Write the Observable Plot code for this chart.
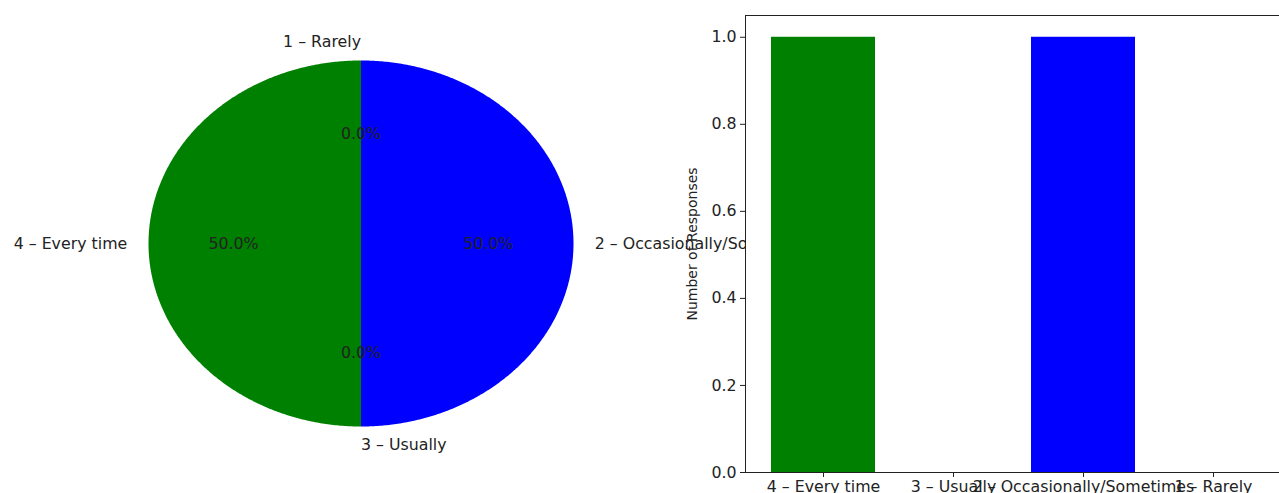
<!DOCTYPE html>
<html>
<head>
<meta charset="utf-8">
<script src="https://cdn.jsdelivr.net/npm/d3@7"></script>
<script src="https://cdn.jsdelivr.net/npm/@observablehq/plot@0.6"></script>
<style>
  html, body { margin: 0; padding: 0; background: white; overflow: hidden; }
  #wrap { position: relative; width: 1279px; height: 493px; overflow: hidden; }
  #pie, #bar { position: absolute; top: 0; height: 493px; }
  #pie { left: 0; width: 640px; }
  #bar { left: 680px; width: 620px; }
  svg { overflow: visible; max-width: none !important; }
</style>
</head>
<body>
<div id="wrap"><div id="pie"></div><div id="bar"></div></div>
<script>
// ---- data ----
const pieCategories = ["1 – Rarely", "2 – Occasionally/Sometimes", "3 – Usually", "4 – Every time"];
const pieResponses = [0, 1, 0, 1];
const pieColors = ["red", "blue", "orange", "green"];
const barCategories = ["4 – Every time", "3 – Usually", "2 – Occasionally/Sometimes", "1 – Rarely"];
const barResponses = [1, 0, 1, 0];
const barColors = ["green", "orange", "blue", "red"];
const yTicks = [0, 0.2, 0.4, 0.6, 0.8, 1.0];
const yLabel = "Number of Responses";

const FONT = "DejaVu Sans, sans-serif";
const INK = "#222";
const FS = 15.8;

// ---- pie ----
const arcs = d3.pie().sort(null).value(d => d.value)(
  pieCategories.map((c, i) => ({cat: c, value: pieResponses[i], color: pieColors[i]}))
);
const total = d3.sum(pieResponses);
const wedgePts = arcs.flatMap(a => {
  const span = a.endAngle - a.startAngle;
  const n = Math.max(2, Math.ceil(span / (Math.PI / 360)));
  const pts = [{slice: a.data.cat, color: a.data.color, x: 0, y: 0}];
  for (let k = 0; k <= n; k++) {
    const t = a.startAngle + span * k / n;
    pts.push({slice: a.data.cat, color: a.data.color, x: Math.sin(t), y: Math.cos(t)});
  }
  pts.push({slice: a.data.cat, color: a.data.color, x: 0, y: 0});
  return pts;
});
const labels = arcs.map(a => {
  const m = (a.startAngle + a.endAngle) / 2;
  return {
    text: a.data.cat,
    pct: (a.data.value / total * 100).toFixed(1) + "%",
    lx: 1.1 * Math.sin(m), ly: 1.1 * Math.cos(m),
    px: 0.6 * Math.sin(m), py: 0.6 * Math.cos(m)
  };
});

const pie = Plot.plot({
  width: 640, height: 493,
  marginLeft: 148, marginRight: 67, marginTop: 60, marginBottom: 67,
  x: {domain: [-1, 1], axis: null},
  y: {domain: [-1, 1], axis: null},
  color: {type: "identity"},
  style: {background: "transparent", overflow: "visible", fontFamily: FONT, fontSize: FS + "px", color: INK},
  marks: [
    Plot.line(wedgePts, {x: "x", y: "y", z: "slice", fill: "color", stroke: "none"}),
    Plot.text(labels.filter(d => d.lx > 0), {x: "lx", y: "ly", text: "text", textAnchor: "start", fill: INK, fontSize: FS}),
    Plot.text(labels.filter(d => !(d.lx > 0)), {x: "lx", y: "ly", text: "text", textAnchor: "end", fill: INK, fontSize: FS}),
    Plot.text(labels, {x: "px", y: "py", text: "pct", textAnchor: "middle", fill: INK, fontSize: FS})
  ]
});
document.getElementById("pie").appendChild(pie);

// ---- bar ----
const barData = barCategories.map((c, i) => ({cat: c, value: barResponses[i], color: barColors[i]}));
const bar = Plot.plot({
  width: 620, height: 493,
  marginLeft: 65, marginRight: 10, marginTop: 15, marginBottom: 21,
  x: {type: "band", domain: barCategories, paddingInner: 0.2, paddingOuter: 0.19, align: 0.5, label: null},
  y: {domain: [0, 1.05], label: null},
  color: {type: "identity"},
  style: {background: "transparent", overflow: "visible", fontFamily: FONT, fontSize: FS + "px", color: INK},
  marks: [
    Plot.frame({fill: "white", stroke: "none"}),
    Plot.barY(barData, {x: "cat", y: "value", fill: "color", inset: 0}),
    Plot.axisY({ticks: yTicks, tickFormat: d3.format(".1f"), tickSize: 5, tickPadding: 4, fontSize: FS, stroke: INK, label: null}),
    Plot.axisY({ticks: [], label: yLabel, labelAnchor: "center", labelOffset: 58, labelArrow: "none", fontSize: 14, tickSize: 0}),
    Plot.axisX({tickSize: 5, tickPadding: 3, fontSize: FS, stroke: INK, label: null}),
    Plot.frame({stroke: INK, strokeWidth: 1})
  ]
});
document.getElementById("bar").appendChild(bar);
</script>
</body>
</html>
